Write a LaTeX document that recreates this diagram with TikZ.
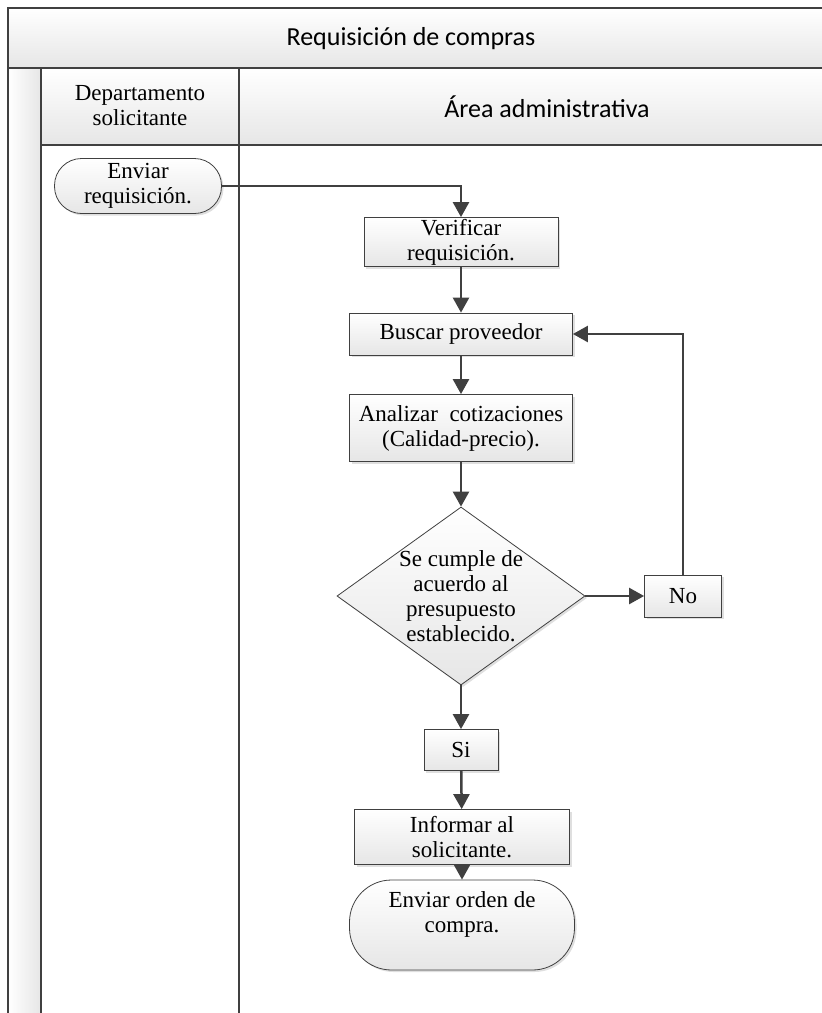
\documentclass[tikz,border=0pt]{standalone}
\usepackage{fontspec}
\setmainfont{Liberation Serif}
\newfontfamily\titlefont{Carlito}
\usepackage{xcolor}
\usetikzlibrary{arrows.meta, shapes.geometric, shadows}

\definecolor{linegray}{HTML}{404040}
\definecolor{boxgray}{HTML}{E6E6E6}

\tikzset{
    box/.style={draw=linegray, line width=0.8pt, top color=white, bottom color=boxgray,
        drop shadow={shadow xshift=2pt, shadow yshift=-2pt, opacity=0.25},
        align=center, inner sep=1pt, font=\fontsize{23}{25}\selectfont},
    terminal/.style={box, rounded corners=27pt},
    decision/.style={box, diamond, aspect=1.39, inner sep=-8pt},
    flow/.style={draw=linegray, line width=2.5pt, -{Triangle[length=15pt, width=16pt]}},
    frame/.style={draw=linegray, line width=1.8pt},
    lanetitle/.style={font=\titlefont\fontsize{26}{30}\selectfont}
}

\begin{document}
\begin{tikzpicture}[x=1pt, y=-1pt]
                    \useasboundingbox (0, 0) rectangle (822, 1013);

                    \shade[top color=white, bottom color=boxgray]
                    (8, 8) rectangle (822, 68);
                    \shade[top color=white, bottom color=boxgray]
                    (41, 68) rectangle (822, 145);
                    \shade[left color=white, right color=boxgray]
                    (8, 68) rectangle (41, 1013);

                    \draw[frame]
                    (8, 1013) -- (8, 8) -- (822, 8);
                    \draw[frame]
                    (8, 68) -- (822, 68);
                    \draw[frame]
                    (41, 145) -- (822, 145);
                    \draw[frame]
                    (41, 68) -- (41, 1013);
                    \draw[frame]
                    (239, 68) -- (239, 1013);

                    \node[lanetitle] (title) at (411, 39) {Requisición de compras};
                    \node[font=\fontsize{23}{25}\selectfont, align=center] (depto) at (140, 106) {Departamento\\solicitante};
                    \node[lanetitle] (area) at (547, 107) {Área administrativa};

                    \node[terminal, minimum width=167pt, minimum height=55pt] (envreq) at (138, 186) {Enviar\\requisición.};
                    \node[box, minimum width=194pt, minimum height=49pt] (verif) at (461, 242) {Verificar\\requisición.};
                    \node[box, minimum width=223pt, minimum height=42pt] (buscar) at (461, 334) {Buscar proveedor};
                    \node[box, minimum width=223pt, minimum height=67pt] (analiz) at (461, 428) {Analizar\ \ cotizaciones\\(Calidad-precio).};
                    \node[decision, minimum width=248pt, minimum height=178pt] (cumple) at (461, 596) {Se cumple de\\acuerdo al\\presupuesto\\establecido.};
                    \node[box, minimum width=77pt, minimum height=42pt] (no) at (683, 596) {No};
                    \node[box, minimum width=74pt, minimum height=41pt] (si) at (461, 750) {Si};
                    \node[box, minimum width=215pt, minimum height=55pt] (inform) at (462, 837) {Informar al\\solicitante.};
                    \node[terminal, rounded corners=42pt, minimum width=225pt, minimum height=90pt] (envord) at (462, 925) {Enviar orden de\\compra.\\\mbox{}};

                    \draw[flow] (envreq.east) -| (verif.north);
                    \draw[flow] (verif) -- (buscar);
                    \draw[flow] (buscar) -- (analiz);
                    \draw[flow] (analiz) -- (cumple);
                    \draw[flow] (cumple) -- (no);
                    \draw[flow] (no.north) |- (buscar.east);
                    \draw[flow] (cumple) -- (si);
                    \draw[flow] (si) -- (inform);
                    \draw[flow] (inform) -- (envord);
                \end{tikzpicture}
\end{document}
